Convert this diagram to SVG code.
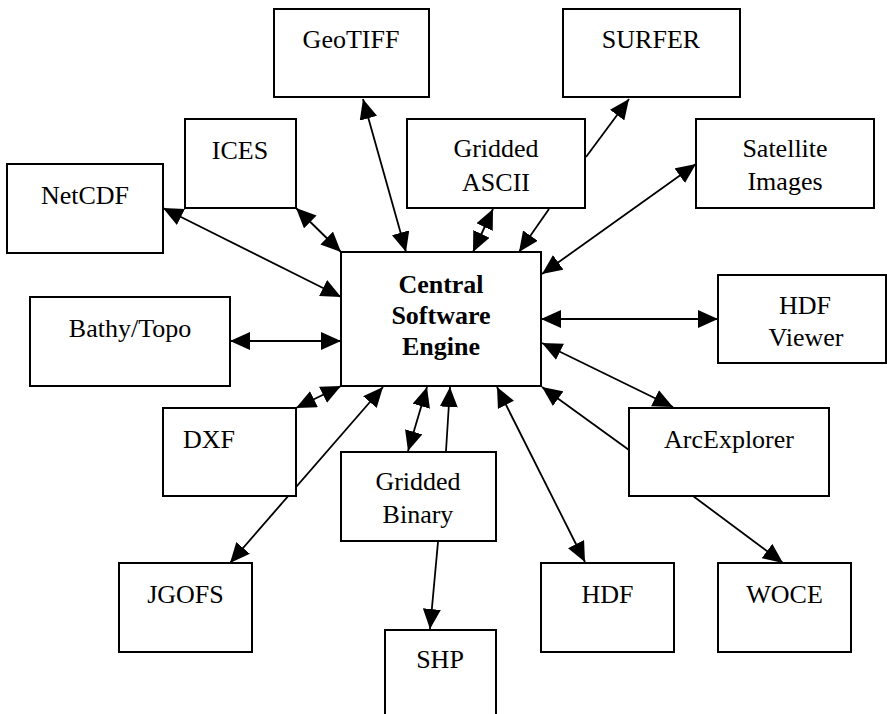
<svg xmlns="http://www.w3.org/2000/svg" width="887" height="714" viewBox="0 0 887 714">
<style>
.box{fill:#fff;stroke:#000;stroke-width:2}
.t{font-family:"Liberation Serif","Times New Roman",serif;font-size:26px;fill:#000;text-anchor:middle}
.b{font-weight:bold}
.c{stroke:#000;stroke-width:1.8;fill:none}
.two{marker-start:url(#ah);marker-end:url(#ah)}
.one{marker-end:url(#ah)}
</style>
<defs>
<marker id="ah" viewBox="0 0 20 18" refX="20" refY="9" markerWidth="20" markerHeight="18" markerUnits="userSpaceOnUse" orient="auto-start-reverse">
<path d="M0,0 L20,9 L0,18 z" fill="#000"/>
</marker>
</defs>
<rect width="887" height="714" fill="#fff"/>
<g id="connectors">
<line class="c two" x1="363" y1="99" x2="406" y2="252"/>
<line class="c two" x1="296" y1="208" x2="341" y2="252"/>
<line class="c two" x1="163" y1="208" x2="341" y2="297"/>
<line class="c two" x1="230" y1="341" x2="341" y2="341"/>
<line class="c two" x1="296" y1="408" x2="341" y2="386"/>
<line class="c two" x1="230" y1="563" x2="383" y2="387"/>
<line class="c two" x1="408" y1="451" x2="427" y2="387"/>
<line class="c one" x1="446" y1="451" x2="450" y2="387"/>
<line class="c one" x1="438" y1="542" x2="430" y2="629"/>
<line class="c two" x1="585" y1="562" x2="497" y2="387"/>
<line class="c one" x1="629" y1="450" x2="542" y2="387"/>
<line class="c two" x1="673" y1="407" x2="542" y2="343"/>
<line class="c one" x1="693" y1="496" x2="783" y2="563"/>
<line class="c two" x1="541" y1="319" x2="718" y2="319"/>
<line class="c two" x1="696" y1="164" x2="542" y2="274"/>
<line class="c one" x1="549" y1="209" x2="519" y2="252"/>
<line class="c two" x1="493" y1="209" x2="473" y2="252"/>
<line class="c one" x1="586" y1="157" x2="629" y2="99"/>
</g>
<g id="geotiff"><rect class="box" x="274" y="9" width="155" height="88"/><text class="t" x="351" y="48">GeoTIFF</text></g>
<g id="surfer"><rect class="box" x="563" y="9" width="177" height="88"/><text class="t" x="651" y="48">SURFER</text></g>
<g id="ices"><rect class="box" x="185" y="119" width="111" height="89"/><text class="t" x="240" y="159">ICES</text></g>
<g id="gridded-ascii"><rect class="box" x="407" y="119" width="178" height="89"/><text class="t" x="496" y="157">Gridded</text><text class="t" x="496" y="191">ASCII</text></g>
<g id="satellite"><rect class="box" x="696" y="119" width="178" height="89"/><text class="t" x="785" y="157">Satellite</text><text class="t" x="785" y="190">Images</text></g>
<g id="netcdf"><rect class="box" x="7" y="164" width="156" height="89"/><text class="t" x="85" y="204">NetCDF</text></g>
<g id="bathy"><rect class="box" x="30" y="297" width="200" height="89"/><text class="t" x="130" y="337">Bathy/Topo</text></g>
<g id="central"><rect class="box" x="341" y="252" width="200" height="134"/><text class="t b" x="441" y="293">Central</text><text class="t b" x="441" y="324">Software</text><text class="t b" x="441" y="355">Engine</text></g>
<g id="hdf-viewer"><rect class="box" x="718" y="275" width="168" height="88"/><text class="t" x="805" y="314">HDF</text><text class="t" x="806" y="346">Viewer</text></g>
<g id="dxf"><rect class="box" x="163" y="408" width="133" height="88"/><text class="t" x="183" y="448" style="text-anchor:start">DXF</text></g>
<g id="arcexplorer"><rect class="box" x="629" y="408" width="200" height="88"/><text class="t" x="729" y="448">ArcExplorer</text></g>
<g id="gridded-binary"><rect class="box" x="341" y="452" width="155" height="89"/><text class="t" x="418" y="490">Gridded</text><text class="t" x="418" y="523">Binary</text></g>
<g id="shp"><rect class="box" x="385" y="630" width="111" height="100"/><text class="t" x="440" y="668">SHP</text></g>
<g id="jgofs"><rect class="box" x="119" y="563" width="133" height="89"/><text class="t" x="185.5" y="603">JGOFS</text></g>
<g id="hdf"><rect class="box" x="541" y="563" width="133" height="89"/><text class="t" x="607.5" y="603">HDF</text></g>
<g id="woce"><rect class="box" x="718" y="563" width="133" height="89"/><text class="t" x="784.5" y="603">WOCE</text></g>
</svg>
